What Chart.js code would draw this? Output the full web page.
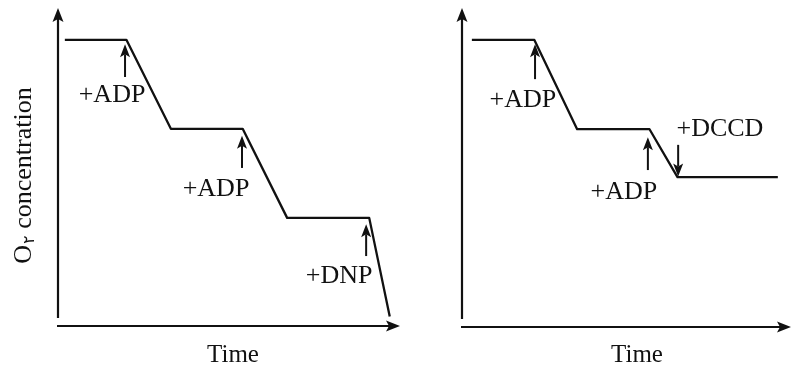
<!DOCTYPE html>
<html lang="en">
<head>
    <meta charset="UTF-8">
    <title>Oxygen consumption traces</title>
    <script src="https://cdn.jsdelivr.net/npm/chart.js@4.4.0/dist/chart.umd.min.js"></script>
    <style>
        body {
            margin: 0;
            background: #fff;
            font-family: "Liberation Serif", serif;
        }
        .panel {
            position: absolute;
            top: 0;
            height: 370px;
        }
        #leftPanel { left: 0; width: 400px; }
        #rightPanel { left: 400px; width: 391px; }
    </style>
</head>
<body>
    <div class="panel" id="leftPanel"><canvas id="leftChart" width="400" height="370"></canvas></div>
    <div class="panel" id="rightPanel"><canvas id="rightChart" width="391" height="370"></canvas></div>

    <script>
        // trace with ADP, ADP, then DNP
        const leftTime = [2, 20, 33, 54, 67, 91, 97];
        const leftConc = [90, 90, 62, 62, 34, 34, 3];

        // trace with ADP, ADP, then DCCD
        const rightTime = [3, 22, 35, 57, 65.5, 96];
        const rightConc = [90, 90, 62, 62, 47, 47];

        // additions: arrow at time t, from conc y0 to y1, label at (lx, ly)
        const leftAdds = [
            { label: '+ADP', t: 19.6, y0: 78.3, y1: 88.6, lx: 15.8, ly: 72.5 },
            { label: '+ADP', t: 53.8, y0: 49.7, y1: 59.8, lx: 46.2, ly: 43.0 },
            { label: '+DNP', t: 90.1, y0: 22.0, y1: 32.0, lx: 82.2, ly: 15.6 }
        ];
        const rightAdds = [
            { label: '+ADP', t: 22.2, y0: 77.7, y1: 88.6, lx: 18.5, ly: 71.0 },
            { label: '+ADP', t: 56.5, y0: 49.2, y1: 59.5, lx: 49.2, ly: 42.4 },
            { label: '+DCCD', t: 65.7, y0: 57.1, y1: 47.2, lx: 78.4, ly: 62.1 }
        ];

        const ink = '#111';

        function drawArrow(ctx, x0, y0, x1, y1, head, half) {
            const ang = Math.atan2(y1 - y0, x1 - x0);
            const bx = x1 - head * Math.cos(ang);
            const by = y1 - head * Math.sin(ang);
            ctx.beginPath();
            ctx.moveTo(x0, y0);
            ctx.lineTo(bx + 3 * Math.cos(ang), by + 3 * Math.sin(ang));
            ctx.stroke();
            ctx.beginPath();
            ctx.moveTo(x1, y1);
            ctx.lineTo(bx - half * Math.sin(ang), by + half * Math.cos(ang));
            ctx.lineTo(bx + 3 * Math.cos(ang), by + 3 * Math.sin(ang));
            ctx.lineTo(bx + half * Math.sin(ang), by - half * Math.cos(ang));
            ctx.closePath();
            ctx.fill();
        }

        const tracePlugin = {
            id: 'trace',
            afterDatasetsDraw(chart, args, opts) {
                const ctx = chart.ctx;
                const area = chart.chartArea;
                const xs = chart.scales.x, ys = chart.scales.y;
                ctx.save();
                ctx.strokeStyle = ink;
                ctx.fillStyle = ink;
                ctx.lineWidth = 2.2;

                // axes with arrow heads
                drawArrow(ctx, area.left, area.bottom - 8, area.left, area.top, 14, 5.5);
                drawArrow(ctx, area.left - 1, area.bottom, area.right, area.bottom, 14, 5.5);

                // additions
                ctx.lineWidth = 2;
                ctx.font = '26px "Liberation Serif", serif';
                ctx.textAlign = 'center';
                ctx.textBaseline = 'middle';
                opts.adds.forEach(a => {
                    const px = xs.getPixelForValue(a.t);
                    drawArrow(ctx, px, ys.getPixelForValue(a.y0), px, ys.getPixelForValue(a.y1), 13, 5);
                    ctx.fillText(a.label, xs.getPixelForValue(a.lx), ys.getPixelForValue(a.ly));
                });

                // x title
                ctx.font = '25px "Liberation Serif", serif';
                ctx.fillText('Time', opts.timeX, 355);

                // y title
                if (opts.yTitle) {
                    ctx.translate(22, 176);
                    ctx.rotate(-Math.PI / 2);
                    ctx.textAlign = 'left';
                    ctx.textBaseline = 'alphabetic';
                    const big = '26px "Liberation Serif", serif';
                    const small = '16px "DejaVu Sans", sans-serif';
                    ctx.font = big;
                    const wO = ctx.measureText('O').width;
                    const wRest = ctx.measureText(' concentration').width;
                    ctx.font = small;
                    const wSub = ctx.measureText('۲').width;
                    let x = -(wO + wSub + wRest) / 2;
                    const base = 9;
                    ctx.font = big;
                    ctx.fillText('O', x, base);
                    x += wO;
                    ctx.font = small;
                    ctx.fillText('۲', x + 1, base + 3);
                    x += wSub + 1;
                    ctx.font = big;
                    ctx.fillText(' concentration', x, base);
                }
                ctx.restore();
            }
        };

        function makeChart(id, times, concs, adds, pad, timeX, yTitle) {
            return new Chart(document.getElementById(id), {
                type: 'line',
                data: {
                    datasets: [{
                        data: times.map((t, i) => ({ x: t, y: concs[i] })),
                        borderColor: ink,
                        borderWidth: 2.3,
                        pointRadius: 0,
                        tension: 0,
                        borderJoinStyle: 'round',
                        clip: false
                    }]
                },
                options: {
                    responsive: false,
                    animation: false,
                    layout: { padding: pad },
                    plugins: {
                        legend: { display: false },
                        tooltip: { enabled: false },
                        trace: { adds: adds, timeX: timeX, yTitle: yTitle }
                    },
                    scales: {
                        x: { type: 'linear', min: 0, max: 100, display: false },
                        y: { type: 'linear', min: 0, max: 100, display: false }
                    }
                },
                plugins: [tracePlugin]
            });
        }

        makeChart('leftChart', leftTime, leftConc, leftAdds,
            { left: 58, top: 8, right: 0, bottom: 44 }, 233, true);
        makeChart('rightChart', rightTime, rightConc, rightAdds,
            { left: 62, top: 8, right: 0, bottom: 43 }, 237, false);
    </script>
</body>
</html>
